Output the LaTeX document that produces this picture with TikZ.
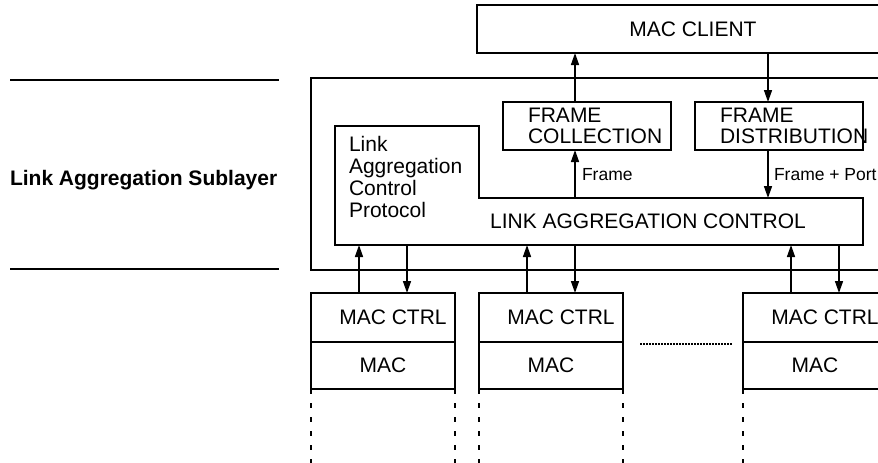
\documentclass[tikz,border=0pt]{standalone}
\usepackage{fontspec}
\setmainfont{Liberation Sans}
\usetikzlibrary{arrows.meta}
\begin{document}
\begin{tikzpicture}[x=1pt,y=-1pt,
  line width=1.5pt,
  every node/.style={font=\fontsize{21}{21}\selectfont, outer sep=0pt},
  box/.style={draw, rectangle, inner sep=0pt},
  plain/.style={inner sep=0pt},
  arr/.style={-{Triangle[length=12pt,width=8pt]}},
  small/.style={font=\fontsize{17.5}{20}\selectfont, inner sep=0pt},
  legdash/.style={dash pattern=on 4.5pt off 9.5pt},
]
\useasboundingbox (0,0) rectangle (878,463);
\clip (0,0) rectangle (878,463);

% layer boundaries on the left
\coordinate (ltop1) at (10,80);  \coordinate (ltop2) at (279,80);
\coordinate (lbot1) at (10,269); \coordinate (lbot2) at (279,269);
\draw (ltop1) -- (ltop2);
\draw (lbot1) -- (lbot2);
\node[plain, anchor=base west, font=\bfseries\fontsize{21}{21}\selectfont] (sublabel) at (10,185) {Link Aggregation Sublayer};

% MAC client and sublayer frame
\node[box, minimum width=432pt, minimum height=48pt] (client) at (693,29) {MAC CLIENT};
\node[box, minimum width=600pt, minimum height=192pt] (sub) at (611,174) {};

% frame collector / distributor
\node[box, minimum width=168pt, minimum height=48pt] (fc) at (587,126) {};
\node[plain, anchor=west, align=left] (fct) at (528,126) {FRAME\\COLLECTION};
\node[box, minimum width=168pt, minimum height=48pt] (fd) at (779,126) {};
\node[plain, anchor=west, align=left] (fdt) at (720,126) {FRAME\\DISTRIBUTION};

% link aggregation control (L-shaped outline)
\draw (335,126) -- (479,126) -- (479,198) -- (863,198) -- (863,245) -- (335,245) -- cycle;
\node[plain, minimum width=528pt, minimum height=47pt] (lac) at (599,221.5) {};
\node[plain] (lact) at (648,221) {LINK AGGREGATION CONTROL};
\node[plain, anchor=north west, align=left, font=\fontsize{21}{22}\selectfont] (lacp) at (349,136) {Link\\Aggregation\\Control\\Protocol};

% frame paths
\coordinate (upx) at (575,0);
\coordinate (dnx) at (768,0);
\draw[arr] (lac.north -| upx) -- (fc.south -| upx);
\draw[arr] (fc.north -| upx) -- (client.south -| upx);
\draw[arr] (client.south -| dnx) -- (fd.north -| dnx);
\draw[arr] (fd.south -| dnx) -- (lac.north -| dnx);
\node[small, anchor=base west] (flab) at (582,180) {Frame};
\node[small, anchor=base west] (fplab) at (774,180) {Frame + Port};

% per-port MAC stacks
\foreach \L/\n in {311/1,479/2,743/3}{
  \node[box, minimum width=144pt, minimum height=49pt] (ctrl\n) at (\L+72,317.5) {\hspace*{20pt}MAC CTRL};
  \node[box, minimum width=144pt, minimum height=47pt] (mac\n) at (\L+72,365.5) {MAC};
  \coordinate (u\n) at (\L+48,0);
  \coordinate (d\n) at (\L+96,0);
  \draw[arr] (ctrl\n.north -| u\n) -- (lac.south -| u\n);
  \draw[arr] (lac.south -| d\n) -- (ctrl\n.north -| d\n);
  \draw[legdash] (mac\n.south west) -- ++(0,80);
  \draw[legdash] (mac\n.south east) -- ++(0,80);
}

% more ports in between
\coordinate (dots1) at (640,344);
\coordinate (dots2) at (732,344);
\draw[line width=1.3pt, dash pattern=on 1.5pt off 1.5pt] (dots1) -- (dots2);
\end{tikzpicture}
\end{document}
